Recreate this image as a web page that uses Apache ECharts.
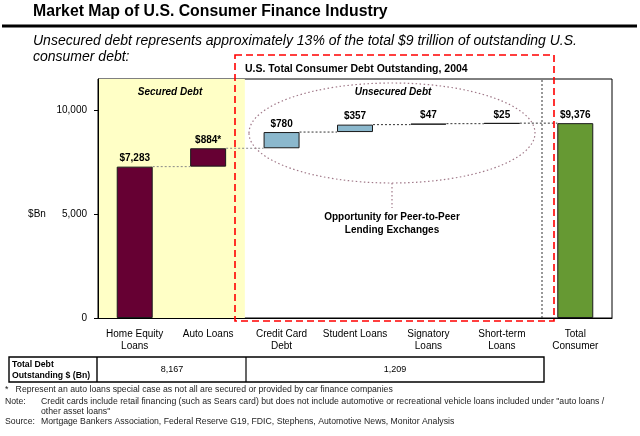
<!DOCTYPE html>
<html>
<head>
<meta charset="utf-8">
<script src="https://cdn.jsdelivr.net/npm/echarts@6/dist/echarts.min.js"></script>
<style>
  html, body { margin: 0; padding: 0; background: #fff; }
  #chart { width: 640px; height: 436px; }
</style>
</head>
<body>
<div id="chart"></div>
<script>
const categories = ['Home Equity\nLoans', 'Auto Loans', 'Credit Card\nDebt', 'Student Loans', 'Signatory\nLoans', 'Short-term\nLoans', 'Total\nConsumer'];
const amounts = [7283, 884, 780, 357, 47, 25, 9376];
const valueLabels = ['$7,283', '$884*', '$780', '$357', '$47', '$25', '$9,376'];
const barColors = ['#660033', '#660033', '#8bb8cd', '#8bb8cd', '#8bb8cd', '#8bb8cd', '#669933'];
const yTicks = [0, 5000, 10000];
const tableValues = ['8,167', '1,209'];

// waterfall: each step starts where the previous one ended, total starts at 0
const bases = [];
let running = 0;
for (let i = 0; i < amounts.length; i++) {
    if (i === amounts.length - 1) {
        bases.push(0);
    } else {
        bases.push(running);
        running += amounts[i];
    }
}
const tops = amounts.map((a, i) => bases[i] + a);
const connectors = tops.slice(0, -1).map((t, i) => [i, t]);

const FONT = '"Liberation Sans", Arial, sans-serif';
const BAR_FRAC = 0.49;

const chart = echarts.init(document.getElementById('chart'));

const option = {
    animation: false,
    textStyle: { fontFamily: FONT },
    grid: {
        left: 98, right: 28, top: 79, bottom: 118,
        show: true, borderColor: '#000', borderWidth: 1
    },
    xAxis: {
        type: 'category',
        data: categories,
        axisTick: { show: false },
        axisLine: { lineStyle: { color: '#000' } },
        axisLabel: { color: '#000', fontSize: 10, lineHeight: 12, margin: 10, interval: 0, fontFamily: FONT }
    },
    yAxis: {
        type: 'value',
        min: 0, max: 11500, interval: 5000,
        axisLine: { show: true, lineStyle: { color: '#000' } },
        axisTick: { show: true, length: 4, lineStyle: { color: '#000' } },
        splitLine: { show: false },
        axisLabel: {
            color: '#000', fontSize: 10, fontFamily: FONT, showMaxLabel: false, margin: 11,
            formatter: v => yTicks.includes(v) ? v.toLocaleString('en-US') : ''
        }
    },
    series: [
        {
            // yellow band behind the secured debt categories
            type: 'custom',
            silent: true,
            z: 0,
            data: [[0, 1]],
            renderItem: (params, api) => {
                const bw = api.size([1, 0])[0];
                const x0 = api.coord([api.value(0), 0])[0] - bw / 2;
                const x1 = api.coord([api.value(1), 0])[0] + bw / 2;
                const cs = params.coordSys;
                return {
                    type: 'rect',
                    shape: { x: x0, y: cs.y, width: x1 - x0, height: cs.height },
                    style: { fill: '#ffffc6' }
                };
            }
        },
        {
            type: 'bar',
            stack: 'wf',
            barWidth: (BAR_FRAC * 100) + '%',
            itemStyle: { color: 'transparent' },
            silent: true,
            z: 2,
            data: bases
        },
        {
            type: 'bar',
            stack: 'wf',
            z: 3,
            data: amounts.map((v, i) => ({
                value: v,
                itemStyle: { color: barColors[i], borderColor: '#1a1a1a', borderWidth: 1 }
            })),
            label: {
                show: true,
                position: 'top',
                distance: 3,
                color: '#000',
                fontSize: 10,
                fontWeight: 'bold',
                fontFamily: FONT,
                formatter: p => valueLabels[p.dataIndex]
            }
        },
        {
            // dotted connectors from each bar top to the next bar
            type: 'custom',
            silent: true,
            z: 4,
            data: connectors,
            encode: { x: 0, y: 1 },
            renderItem: (params, api) => {
                const bw = api.size([1, 0])[0];
                const p = api.coord([api.value(0), api.value(1)]);
                const half = bw * BAR_FRAC / 2;
                return {
                    type: 'line',
                    shape: { x1: p[0] + half, y1: p[1], x2: p[0] + bw - half, y2: p[1] },
                    style: { stroke: params.dataIndex < 2 ? '#888' : '#333', lineWidth: 1, lineDash: [2, 2] }
                };
            }
        }
    ],
    graphic: [
        { type: 'text', left: 33, top: 4, style: { text: 'Market Map of U.S. Consumer Finance Industry', font: 'bold 15.8px ' + FONT, fill: '#000' } },
        { type: 'line', shape: { x1: 2, y1: 26, x2: 637, y2: 26 }, style: { stroke: '#000', lineWidth: 3 } },
        { type: 'text', left: 33, top: 33, style: { text: 'Unsecured debt represents approximately 13% of the total $9 trillion of outstanding U.S.\nconsumer debt:', font: 'italic 14px ' + FONT, fill: '#000', lineHeight: 16 } },

        { type: 'text', x: 37, y: 214, style: { text: '$Bn', font: '10px ' + FONT, fill: '#000', align: 'center', verticalAlign: 'middle' } },

        { type: 'rect', z: 10, shape: { x: 235, y: 55, width: 319, height: 266 }, style: { fill: 'none', stroke: '#ff0000', lineWidth: 1.6, lineDash: [7, 4] } },
        { type: 'text', z: 10, left: 245, top: 64, style: { text: 'U.S. Total Consumer Debt Outstanding, 2004', font: 'bold 10.5px ' + FONT, fill: '#000' } },
        { type: 'line', z: 10, shape: { x1: 542, y1: 80, x2: 542, y2: 318 }, style: { stroke: '#333', lineWidth: 1, lineDash: [2, 2] } },

        { type: 'text', z: 10, x: 170, y: 92, style: { text: 'Secured Debt', font: 'bold italic 10px ' + FONT, fill: '#000', align: 'center', verticalAlign: 'middle' } },
        { type: 'text', z: 10, x: 393, y: 92, style: { text: 'Unsecured Debt', font: 'bold italic 10px ' + FONT, fill: '#000', align: 'center', verticalAlign: 'middle' } },
        { type: 'ellipse', z: 10, shape: { cx: 392, cy: 133, rx: 143, ry: 50 }, style: { fill: 'none', stroke: '#a07888', lineWidth: 1.2, lineDash: [1.5, 2.5] } },
        { type: 'line', z: 10, shape: { x1: 392, y1: 183, x2: 392, y2: 208 }, style: { stroke: '#a07888', lineWidth: 1.2, lineDash: [1.5, 2.5] } },
        { type: 'text', z: 10, x: 392, y: 224, style: { text: 'Opportunity for Peer-to-Peer\nLending Exchanges', font: 'bold 10px ' + FONT, fill: '#000', align: 'center', verticalAlign: 'middle', lineHeight: 13 } },

        // table under the axis
        { type: 'rect', shape: { x: 9, y: 357, width: 535, height: 25 }, style: { fill: 'none', stroke: '#000', lineWidth: 1.4 } },
        { type: 'line', shape: { x1: 97, y1: 357, x2: 97, y2: 382 }, style: { stroke: '#000', lineWidth: 1.4 } },
        { type: 'line', shape: { x1: 246, y1: 357, x2: 246, y2: 382 }, style: { stroke: '#000', lineWidth: 1.2 } },
        { type: 'text', left: 12, top: 359, style: { text: 'Total Debt\nOutstanding $ (Bn)', font: 'bold 8.7px ' + FONT, fill: '#000', lineHeight: 11 } },
        { type: 'text', x: 172, y: 370, style: { text: tableValues[0], font: '9px ' + FONT, fill: '#000', align: 'center', verticalAlign: 'middle' } },
        { type: 'text', x: 395, y: 370, style: { text: tableValues[1], font: '9px ' + FONT, fill: '#000', align: 'center', verticalAlign: 'middle' } },

        // footnotes
        { type: 'text', left: 5, top: 385, style: { text: '*   Represent an auto loans special case as not all are secured or provided by car finance companies', font: '8.7px ' + FONT, fill: '#222' } },
        { type: 'text', left: 5, top: 397, style: { text: 'Note:', font: '8.7px ' + FONT, fill: '#222' } },
        { type: 'text', left: 41, top: 397, style: { text: 'Credit cards include retail financing (such as Sears card) but does not include automotive or recreational vehicle loans included under "auto loans /\nother asset loans"', font: '8.7px ' + FONT, fill: '#222', lineHeight: 10 } },
        { type: 'text', left: 5, top: 417, style: { text: 'Source:', font: '8.7px ' + FONT, fill: '#222' } },
        { type: 'text', left: 41, top: 417, style: { text: 'Mortgage Bankers Association, Federal Reserve G19, FDIC, Stephens, Automotive News, Monitor Analysis', font: '8.7px ' + FONT, fill: '#222' } }
    ]
};

chart.setOption(option);
</script>
</body>
</html>
